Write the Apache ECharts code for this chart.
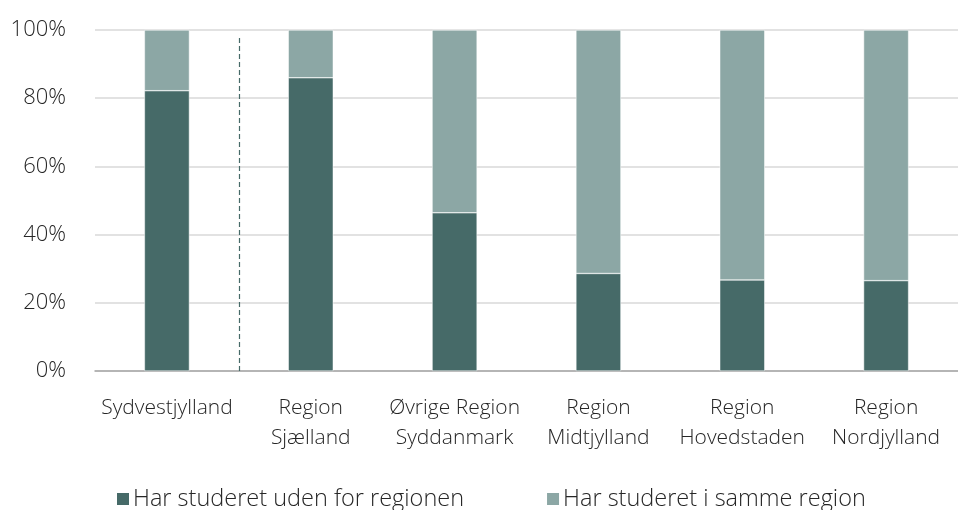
<!DOCTYPE html>
<html>
<head>
    <meta charset="utf-8">
    <title>Studerede uden for regionen</title>
    <script src="https://cdn.jsdelivr.net/npm/echarts@6/dist/echarts.min.js"></script>
    <style>
        body { margin: 0; background: #fff; }
        #main { width: 958px; height: 510px; }
    </style>
</head>
<body>
<div id="main"></div>
<script>
    // data
    var categories = ['Sydvestjylland', 'Region\nSjælland', 'Øvrige Region\nSyddanmark', 'Region\nMidtjylland', 'Region\nHovedstaden', 'Region\nNordjylland'];
    var udenFor = [82.2, 86.0, 46.4, 28.6, 26.7, 26.5];
    var sammeRegion = udenFor.map(function (v) { return +(100 - v).toFixed(1); });
    var seriesNames = ['Har studeret uden for regionen', 'Har studeret i samme region'];
    var dividerAt = 1;      // between 1st and 2nd category
    var dividerTop = 97.7;

    var font = '"Open Sans", "Segoe UI", sans-serif';
    var chart = echarts.init(document.getElementById('main'));

    chart.setOption({
        animation: false,
        textStyle: { fontFamily: font },
        grid: { left: 95, top: 30, width: 870, height: 341, containLabel: false },
        legend: {
            data: seriesNames,
            left: 110,
            top: 482,
            itemWidth: 14,
            itemHeight: 14,
            itemGap: 81,
            icon: 'rect',
            textStyle: { fontSize: 23.5, color: '#262626', fontFamily: font, fontWeight: 300, padding: [0, 0, 0, -2] }
        },
        xAxis: [{
            type: 'category',
            data: categories,
            axisTick: { show: false },
            axisLine: { lineStyle: { color: '#a6a6a6', width: 1.5 } },
            axisLabel: { fontSize: 21, color: '#262626', fontWeight: 300, lineHeight: 30, margin: 22, interval: 0 }
        }, {
            type: 'value',
            min: 0,
            max: 6,
            show: false
        }],
        yAxis: {
            type: 'value',
            min: 0,
            max: 100,
            interval: 20,
            axisLine: { show: false },
            axisTick: { show: false },
            splitLine: { lineStyle: { color: '#d9d9d9', width: 1.5 } },
            axisLabel: { formatter: '{value}%', fontSize: 22, color: '#262626', fontWeight: 300, margin: 29 }
        },
        series: [{
            name: seriesNames[0],
            type: 'bar',
            stack: 'total',
            barWidth: 45,
            data: udenFor,
            itemStyle: { color: '#466a68', borderColor: '#ffffff', borderWidth: 0.5 }
        }, {
            name: seriesNames[1],
            type: 'bar',
            stack: 'total',
            barWidth: 45,
            data: sammeRegion,
            itemStyle: { color: '#8ca7a5', borderColor: '#ffffff', borderWidth: 0.5 }
        }, {
            name: 'divider',
            type: 'line',
            xAxisIndex: 1,
            data: [[dividerAt, 0]],
            showSymbol: false,
            symbol: 'none',
            lineStyle: { opacity: 0 },
            silent: true,
            markLine: {
                silent: true,
                symbol: 'none',
                label: { show: false },
                lineStyle: { color: '#466a68', type: [5, 3], width: 1.2 },
                data: [[{ coord: [dividerAt, 0] }, { coord: [dividerAt, dividerTop] }]]
            }
        }]
    });
</script>
</body>
</html>
